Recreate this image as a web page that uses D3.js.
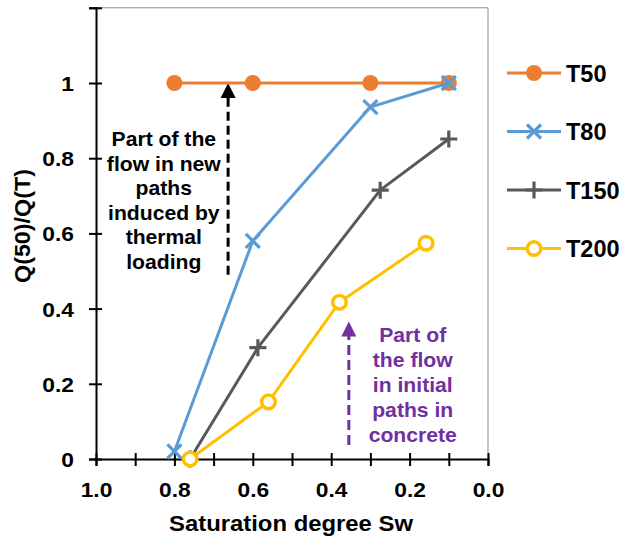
<!DOCTYPE html>
<html>
<head>
<meta charset="utf-8">
<script src="https://cdn.jsdelivr.net/npm/d3@7"></script>
<style>
  html, body { margin: 0; padding: 0; background: #fff; }
  svg text { font-family: "Liberation Sans", Arial, sans-serif; font-weight: bold; }
</style>
</head>
<body>
<div id="chart"></div>
<script>
/* ---- data ---- */
const seriesNames = ['T50', 'T80', 'T150', 'T200'];
const t50  = [[0.8, 1.0], [0.6, 1.0], [0.3, 1.0], [0.1, 1.0]];
const t80  = [[0.8, 0.02], [0.6, 0.58], [0.3, 0.936], [0.1, 1.0]];
const t150 = [[0.76, 0.0], [0.587, 0.296], [0.275, 0.715], [0.1, 0.851]];
const t200 = [[0.76, 0.0], [0.56, 0.152], [0.379, 0.417], [0.158, 0.574]];
const xTicks = [1.0, 0.8, 0.6, 0.4, 0.2, 0.0];
const xMinor = [0.9, 0.7, 0.5, 0.3, 0.1];
const yTicks = [0, 0.2, 0.4, 0.6, 0.8, 1.0, 1.2];
const yLabels = ['0', '0.2', '0.4', '0.6', '0.8', '1', ''];
const noteNew = ['Part of the', 'flow in new', 'paths', 'induced by', 'thermal', 'loading'];
const noteInit = ['Part of', 'the flow', 'in initial', 'paths in', 'concrete'];

const W = 621, H = 539;
const m = { left: 96, right: 133, top: 7.8, bottom: 80 };
const SX = 1.085; // 原图文字略有横向拉伸

const svg = d3.select('#chart').append('svg').attr('width', W).attr('height', H);

const x = d3.scaleLinear().domain([1, 0]).range([m.left, W - m.right]);
const y = d3.scaleLinear().domain([0, 1.2]).range([H - m.bottom, m.top]);

const series = [
  { name: 'T50',  data: t50,  color: '#ED7D31', marker: 'dot' },
  { name: 'T80',  data: t80,  color: '#5B9BD5', marker: 'x' },
  { name: 'T150', data: t150, color: '#595959', marker: 'plus' },
  { name: 'T200', data: t200, color: '#FFC000', marker: 'ring' }
];

// text placed at (px,py) with horizontal stretch
function stext(parent, px, py, str, size, anchor, color, rot, sx) {
  return parent.append('text')
    .attr('transform', `translate(${px},${py})${rot ? ` rotate(${rot})` : ''} scale(${sx || SX},1)`)
    .attr('text-anchor', anchor).attr('font-size', size).attr('fill', color || '#000').text(str);
}

/* 边框：上、右为浅灰 */
svg.append('path')
  .attr('d', `M${x(1)},${y(1.2)}H${x(0)}V${y(0)}`)
  .attr('fill', 'none').attr('stroke', '#8c8c8c').attr('stroke-width', 1);

/* x axis */
const xAxis = svg.append('g').attr('transform', `translate(0,${y(0)})`)
  .call(d3.axisBottom(x).tickValues(xTicks.concat(xMinor)).tickSize(7)
    .tickFormat(d => xTicks.includes(d) ? d3.format('.1f')(d) : ''));
xAxis.select('.domain').attr('stroke', '#000').attr('stroke-width', 2);
xAxis.selectAll('.tick line').attr('y1', -6).attr('y2', 7).attr('stroke', '#000').attr('stroke-width', 2);
xAxis.selectAll('.tick text').attr('font-size', 21).attr('fill', '#000').attr('y', 0).attr('dy', 38)
  .attr('transform', `scale(${SX},1)`)
  .style('font-family', '"Liberation Sans", Arial, sans-serif').style('font-weight', 'bold');

/* y axis */
const yAxis = svg.append('g').attr('transform', `translate(${x(1)},0)`)
  .call(d3.axisLeft(y).tickValues(yTicks).tickSize(7).tickFormat((d, i) => yLabels[i]));
yAxis.select('.domain').attr('stroke', '#000').attr('stroke-width', 2);
yAxis.selectAll('.tick line').attr('x1', -7).attr('x2', 6).attr('stroke', '#000').attr('stroke-width', 2);
yAxis.selectAll('.tick text').attr('font-size', 21).attr('fill', '#000').attr('x', -22 / SX).attr('dy', '0.36em')
  .attr('transform', `scale(${SX},1)`)
  .style('font-family', '"Liberation Sans", Arial, sans-serif').style('font-weight', 'bold');

/* axis titles */
stext(svg, 291, 531, 'Saturation degree Sw', 22, 'middle');
stext(svg, 30, 226, 'Q(50)/Q(T)', 21.5, 'middle', '#000', -90);

/* annotations: dashed arrows */
svg.append('line')
  .attr('x1', x(0.663)).attr('x2', x(0.663)).attr('y1', y(0.49)).attr('y2', y(1.0) + 14)
  .attr('stroke', '#000').attr('stroke-width', 3).attr('stroke-dasharray', '9,5');
svg.append('path')
  .attr('d', `M${x(0.663)},${y(1.0)}l-7.5,15h15z`).attr('fill', '#000');

svg.append('line')
  .attr('x1', x(0.355)).attr('x2', x(0.355)).attr('y1', y(0.037)).attr('y2', y(0.366) + 14)
  .attr('stroke', '#7030A0').attr('stroke-width', 3).attr('stroke-dasharray', '10,5');
svg.append('path')
  .attr('d', `M${x(0.355)},${y(0.366)}l-7.5,15h15z`).attr('fill', '#7030A0');

/* annotation text */
noteNew.forEach((t, i) => stext(svg, x(0.827), y(0.854) + i * 24.5 + 8.5, t, 19.5, 'middle', '#000'));
noteInit.forEach((t, i) => stext(svg, x(0.192), y(0.33) + i * 24.8 + 7.5, t, 19.5, 'middle', '#7030A0'));

/* markers */
function drawMarker(g, type, color) {
  if (type === 'dot') {
    g.append('circle').attr('r', 8).attr('fill', color);
  } else if (type === 'x') {
    g.append('path').attr('d', 'M-7,-7L7,7M-7,7L7,-7').attr('stroke', color).attr('stroke-width', 3.2).attr('fill', 'none');
  } else if (type === 'plus') {
    g.append('path').attr('d', 'M-8.5,0H8.5M0,-8.5V8.5').attr('stroke', color).attr('stroke-width', 3.2).attr('fill', 'none');
  } else {
    g.append('circle').attr('r', 6.8).attr('fill', '#fff').attr('stroke', color).attr('stroke-width', 3.5);
  }
}

const line = d3.line().x(d => x(d[0])).y(d => y(d[1]));
series.forEach(s => {
  const g = svg.append('g');
  g.append('path').datum(s.data).attr('d', line)
    .attr('fill', 'none').attr('stroke', s.color).attr('stroke-width', 3).attr('stroke-linejoin', 'round');
  g.selectAll('g').data(s.data).join('g')
    .attr('transform', d => `translate(${x(d[0])},${y(d[1])})`)
    .each(function () { drawMarker(d3.select(this), s.marker, s.color); });
});

/* legend */
const leg = svg.append('g').selectAll('g').data(series).join('g')
  .attr('transform', (d, i) => `translate(507,${73 + i * 58.5})`);
leg.append('line').attr('x1', 0).attr('x2', 54).attr('stroke', d => d.color).attr('stroke-width', 3);
leg.append('g').attr('transform', 'translate(27,0)').each(function (d) { drawMarker(d3.select(this), d.marker, d.color); });
leg.each(function (d) { stext(d3.select(this), 59, 8.5, d.name, 23.5, 'start', '#000', 0, 1); });
</script>
</body>
</html>
